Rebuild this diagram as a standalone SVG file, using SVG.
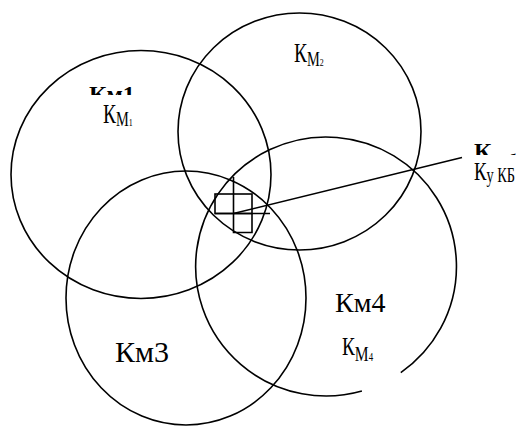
<svg xmlns="http://www.w3.org/2000/svg" width="525" height="428" viewBox="0 0 525 428">
<style>
.c{fill:none;stroke:#000;stroke-width:1.6}
.t{font-family:"Liberation Serif","DejaVu Serif",serif;fill:#000}
.b{font-weight:bold}
.mask{fill:#fff;stroke:none}
</style>
<rect width="525" height="428" fill="#fff"/>
<g id="km1">
<ellipse class="c" cx="141" cy="174.5" rx="130" ry="124"/>
</g>
<g id="km2">
<ellipse class="c" cx="299.5" cy="131.5" rx="121.5" ry="118.5"/>
</g>
<g id="km3">
<ellipse class="c" cx="186" cy="298" rx="120" ry="127"/>
</g>
<g id="km4">
<path class="c" d="M361.9 391 A130.4 129.5 0 1 1 400.8 372.6"/>
</g>
<g id="kub-zone">
<rect class="c" x="215" y="194" width="37" height="19.5"/>
<path class="c" d="M233.5 177 V232.5 H252 V213.5 M215 213.5 H270"/>
</g>
<g id="connectors">
<line class="c" x1="233.5" y1="213.5" x2="462" y2="157.5"/>
</g>
<g id="label-km1">
<text class="t b" x="89" y="102" font-size="24">Км1</text>
<rect class="mask" x="80" y="95" width="80" height="58"/>
<text class="t" transform="translate(103,123) scale(0.72,1)"><tspan font-size="27">К</tspan><tspan font-size="20" dy="3">М</tspan><tspan font-size="11">1</tspan></text>
</g>
<g id="label-km2">
<text class="t" transform="translate(294,62) scale(0.72,1)"><tspan font-size="27">К</tspan><tspan font-size="20" dy="4">М</tspan><tspan font-size="11">2</tspan></text>
</g>
<g id="label-kukb">
<text class="t b" x="474" y="159" font-size="24">К<tspan font-size="16" dy="7">укб</tspan></text>
<rect class="mask" x="464" y="155" width="61" height="40"/>
<text class="t" transform="translate(474,180) scale(0.72,1)"><tspan font-size="26">К</tspan><tspan font-size="20" dy="1.5">у КБ</tspan></text>
</g>
<g id="label-km4">
<text class="t" x="335" y="312" font-size="28">Км4</text>
<text class="t" transform="translate(342,355) scale(0.74,1)"><tspan font-size="26">К</tspan><tspan font-size="21" dy="6">М</tspan><tspan font-size="12">4</tspan></text>
</g>
<g id="label-km3">
<text class="t" x="115" y="362" font-size="30">Км3</text>
</g>
</svg>
